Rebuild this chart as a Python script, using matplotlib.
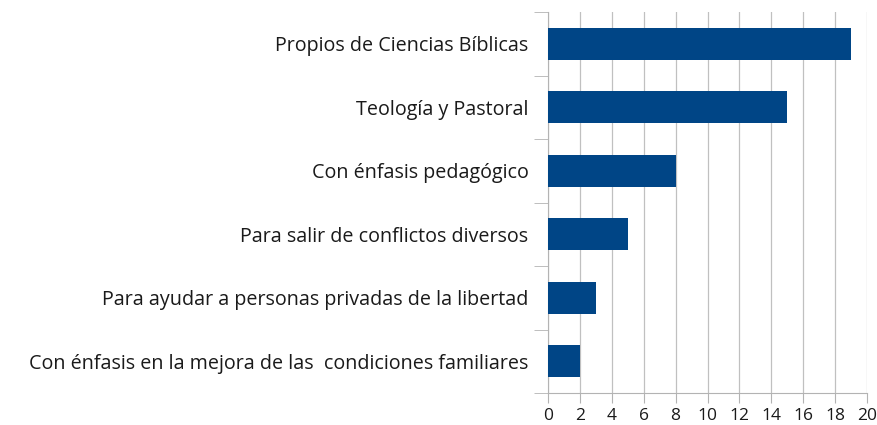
import matplotlib
matplotlib.use('Agg')
import matplotlib.pyplot as plt

categories = [
    'Propios de Ciencias Bíblicas',
    'Teología y Pastoral',
    'Con énfasis pedagógico',
    'Para salir de conflictos diversos',
    'Para ayudar a personas privadas de la libertad',
    'Con énfasis en la mejora de las  condiciones familiares',
]
values = [19, 15, 8, 5, 3, 2]
xticks = list(range(0, 21, 2))

plt.rcParams['font.family'] = ['Open Sans', 'DejaVu Sans']

fig = plt.figure(figsize=(8.77, 4.25), dpi=100)
ax = fig.add_axes([548 / 877, 1 - 393 / 425, (867 - 548) / 877, (393 - 12) / 425])

n = len(categories)
ypos = list(range(n))
ax.barh(ypos, values, height=0.5, color='#004586', zorder=3)
ax.set_ylim(n - 0.5, -0.5)
ax.set_xlim(0, 20)

ax.set_xticks(xticks)
ax.set_xticklabels([str(t) for t in xticks], fontsize=12.5, color='#1a1a1a')
ax.set_yticks(ypos)
ax.set_yticklabels(categories, fontsize=14.2, color='#1a1a1a')
ax.tick_params(axis='y', length=0, pad=14)
ax.tick_params(axis='x', length=7, color='#b3b3b3', pad=4)
# category boundary ticks on the left spine
ax.set_yticks([i + 0.5 for i in range(-1, n)], minor=True)
ax.tick_params(axis='y', which='minor', length=10, color='#b3b3b3')

ax.grid(axis='x', color='#c0c0c0', linewidth=0.9, zorder=0)
for s in ['top', 'right']:
    ax.spines[s].set_visible(False)
for s in ['left', 'bottom']:
    ax.spines[s].set_color('#b3b3b3')

fig.savefig('out.png', dpi=100)
